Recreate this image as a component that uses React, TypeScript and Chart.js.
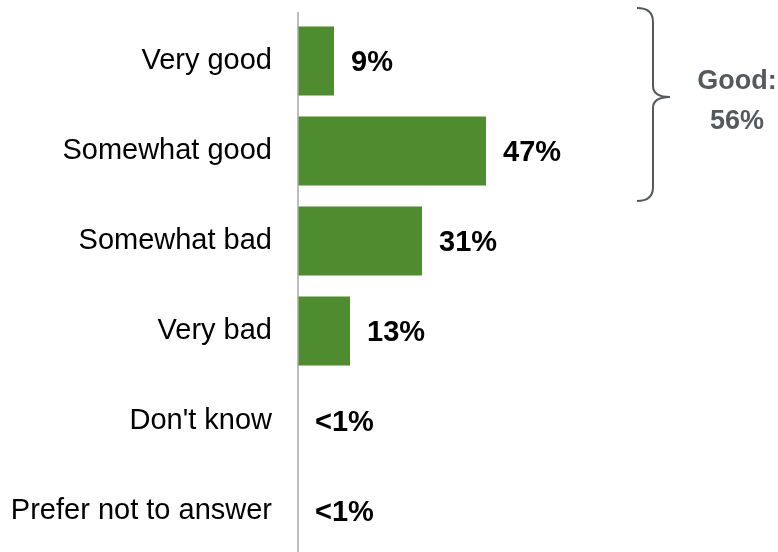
import React, { useEffect, useRef } from "react";
import { Chart, registerables } from "chart.js";

Chart.register(...registerables);

const categories = ["Very good", "Somewhat good", "Somewhat bad", "Very bad", "Don't know", "Prefer not to answer"];
const values = [9, 47, 31, 13, 0, 0];
const valueLabels = ["9%", "47%", "31%", "13%", "<1%", "<1%"];
const braceLines = ["Good:", "56%"];
const braceRange = [0, 1]; // category indices covered by the brace

const FONT = "'Liberation Sans', Arial, sans-serif";
const BAR_COLOR = "#4f8b2f";
const BRACE_COLOR = "#55595e";

const overlayPlugin = {
  id: "overlay",
  afterDatasetsDraw(chart: any) {
    const { ctx, chartArea } = chart;
    const meta = chart.getDatasetMeta(0);
    ctx.save();
    // axis line
    ctx.strokeStyle = "#a6a6a6";
    ctx.lineWidth = 1.5;
    ctx.beginPath();
    ctx.moveTo(chartArea.left, chartArea.top - 4);
    ctx.lineTo(chartArea.left, chartArea.bottom);
    ctx.stroke();
    // value labels
    ctx.fillStyle = "#000";
    ctx.font = `bold 29px ${FONT}`;
    ctx.textAlign = "left";
    ctx.textBaseline = "middle";
    meta.data.forEach((bar: any, i: number) => {
      ctx.fillText(valueLabels[i], bar.x + 17, bar.y + 1.5);
    });
    // brace
    const yScale = chart.scales.y;
    const xScale = chart.scales.x;
    const top = yScale.getPixelForValue(braceRange[0]) - 53;
    const bottom = yScale.getPixelForValue(braceRange[1]) + 50;
    const mid = top + 89;
    const x0 = xScale.getPixelForValue(84.75);
    const xv = x0 + 16;
    const xt = x0 + 33;
    ctx.strokeStyle = BRACE_COLOR;
    ctx.lineWidth = 2;
    ctx.beginPath();
    ctx.moveTo(x0, top);
    ctx.quadraticCurveTo(xv, top, xv, top + 14);
    ctx.lineTo(xv, mid - 11);
    ctx.quadraticCurveTo(xv, mid, xt, mid);
    ctx.quadraticCurveTo(xv, mid, xv, mid + 11);
    ctx.lineTo(xv, bottom - 14);
    ctx.quadraticCurveTo(xv, bottom, x0, bottom);
    ctx.stroke();
    // brace text
    ctx.fillStyle = BRACE_COLOR;
    ctx.font = `bold 27px ${FONT}`;
    ctx.textAlign = "center";
    ctx.textBaseline = "middle";
    const tx = xt + 67;
    ctx.fillText(braceLines[0], tx, mid - 15);
    ctx.fillText(braceLines[1], tx, mid + 25);
    ctx.restore();
  },
};

export default function App() {
  const canvasRef = useRef<HTMLCanvasElement | null>(null);
  useEffect(() => {
    if (!canvasRef.current) return;
    const chart = new Chart(canvasRef.current, {
      type: "bar",
      data: {
        labels: categories,
        datasets: [
          {
            data: values,
            backgroundColor: BAR_COLOR,
            borderWidth: 0,
            barPercentage: 0.765,
            categoryPercentage: 1,
          },
        ],
      },
      options: {
        indexAxis: "y",
        animation: false,
        responsive: true,
        maintainAspectRatio: false,
        layout: { padding: { top: 16, left: 0, right: 0, bottom: 0 } },
        plugins: {
          legend: { display: false },
          tooltip: { enabled: false },
        },
        scales: {
          x: { display: false, min: 0, max: 120 },
          y: {
            grid: { display: false, drawTicks: false },
            border: { display: false },
            ticks: {
              color: "#000",
              padding: 26,
              font: { family: FONT, size: 29 },
            },
            afterFit(scale: any) {
              scale.width = 298;
              scale.paddingTop = 0;
              scale.paddingBottom = 0;
            },
          },
        },
      },
      plugins: [overlayPlugin],
    });
    return () => chart.destroy();
  }, []);
  return (
    <div style={{ position: "fixed", left: 0, top: 0, width: 778, height: 552, overflow: "hidden", background: "#fff" }}>
      <div style={{ position: "relative", width: 778, height: 556 }}>
        <canvas ref={canvasRef} />
      </div>
    </div>
  );
}
